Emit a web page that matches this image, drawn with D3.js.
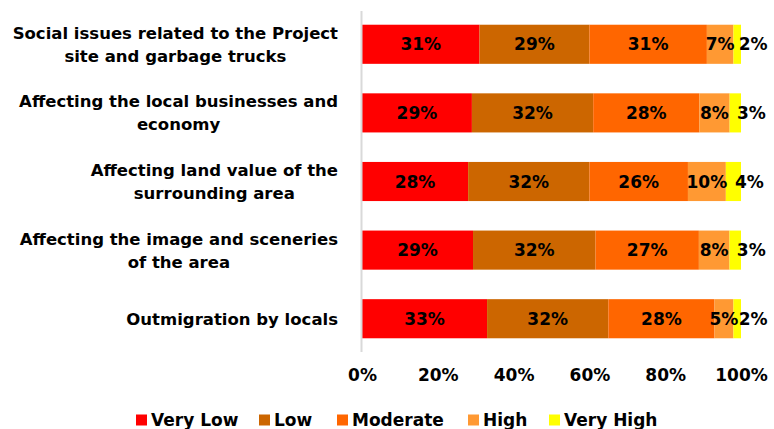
<!DOCTYPE html>
<html>
<head>
<meta charset="utf-8">
<script src="https://cdn.jsdelivr.net/npm/d3@7/dist/d3.min.js"></script>
<style>
  html, body { margin: 0; padding: 0; background: #fff; }
  svg text { font-family: "DejaVu Sans", sans-serif; font-weight: bold; fill: #000; }
</style>
</head>
<body>
<svg id="chart" width="774" height="429"></svg>
<script>
// Survey categories (each entry is a list of wrapped label lines)
const categories = [
  ["Social issues related to the Project", "site and garbage trucks"],
  ["Affecting the local businesses and", "economy"],
  ["Affecting land value of the", "surrounding area"],
  ["Affecting the image and sceneries", "of the area"],
  ["Outmigration by locals"]
];
const seriesNames = ["Very Low", "Low", "Moderate", "High", "Very High"];
const veryLow  = [31, 29, 28, 29, 33];
const low      = [29, 32, 32, 32, 32];
const moderate = [31, 28, 26, 27, 28];
const high     = [7, 8, 10, 8, 5];
const veryHigh = [2, 3, 4, 3, 2];
const xTicks = [0, 0.2, 0.4, 0.6, 0.8, 1];
const colors = ["#FF0000", "#CC6600", "#FF6600", "#FF9933", "#FFFF00"];

const seriesValues = [veryLow, low, moderate, high, veryHigh];
const rows = categories.map((c, i) => {
  const r = { idx: i };
  seriesNames.forEach((s, j) => r[s] = seriesValues[j][i]);
  return r;
});

const svg = d3.select("#chart");
const plot = { left: 362, right: 741, top: 11, bottom: 352 };

const x = d3.scaleLinear().domain([0, 1]).range([plot.left, plot.right]);
const y = d3.scaleBand().domain(d3.range(categories.length))
  .range([plot.top, plot.bottom]).paddingInner(0.43).paddingOuter(0.2);

const stack = d3.stack().keys(seriesNames).offset(d3.stackOffsetExpand);
const stacked = stack(rows);

// Bars
const layer = svg.append("g").selectAll("g").data(stacked).join("g")
  .attr("fill", (d, i) => colors[i]);
layer.selectAll("rect").data(d => d).join("rect")
  .attr("x", d => x(d[0]))
  .attr("y", (d, i) => y(i))
  .attr("width", d => x(d[1]) - x(d[0]))
  .attr("height", y.bandwidth());

// Vertical category axis line
svg.append("line")
  .attr("x1", plot.left - 0.5).attr("x2", plot.left - 0.5)
  .attr("y1", plot.top).attr("y2", plot.bottom)
  .attr("stroke", "#D9D9D9").attr("stroke-width", 2);

// Data labels (the narrow last segment gets its label nudged to the right)
const labelSize = 17;
stacked.forEach((s, si) => {
  svg.append("g").selectAll("text").data(s).join("text")
    .attr("x", d => {
      const c = (x(d[0]) + x(d[1])) / 2;
      return si === stacked.length - 1 ? c + 16 : c;
    })
    .attr("y", (d, i) => y(i) + y.bandwidth() / 2)
    .attr("dy", "0.36em")
    .attr("text-anchor", "middle")
    .attr("font-size", labelSize)
    .text(d => d.data[s.key] + "%");
});

// X axis tick labels
const xAxis = d3.axisBottom(x).tickValues(xTicks).tickFormat(d3.format(".0%")).tickSize(0);
const gx = svg.append("g").attr("transform", `translate(0,${plot.bottom + 14})`).call(xAxis);
gx.select(".domain").remove();
gx.selectAll("text").attr("font-size", 17).attr("font-family", null).attr("fill", "#000");

// Category labels: block right-aligned, lines centered within block
const catSize = 16.5;
const lineH = 23;
const catRight = 338;
categories.forEach((lines, i) => {
  const g = svg.append("g");
  const texts = lines.map(l => g.append("text").attr("font-size", catSize).text(l));
  const maxW = d3.max(texts, t => t.node().getComputedTextLength());
  const cx = catRight - maxW / 2;
  const cy = y(i) + y.bandwidth() / 2;
  texts.forEach((t, k) => {
    t.attr("x", cx).attr("text-anchor", "middle")
     .attr("y", cy + (k - (lines.length - 1) / 2) * lineH)
     .attr("dy", "0.36em");
  });
});

// Legend
const legendPos = [136, 259, 337, 468, 549];
const lg = svg.append("g").attr("transform", "translate(0,420)");
seriesNames.forEach((s, i) => {
  const item = lg.append("g").attr("transform", `translate(${legendPos[i]},0)`);
  item.append("rect").attr("x", 0).attr("y", -5.5).attr("width", 11).attr("height", 11).attr("fill", colors[i]);
  item.append("text").attr("x", 15).attr("dy", "0.36em").attr("font-size", 17).text(s);
});
</script>
</body>
</html>
